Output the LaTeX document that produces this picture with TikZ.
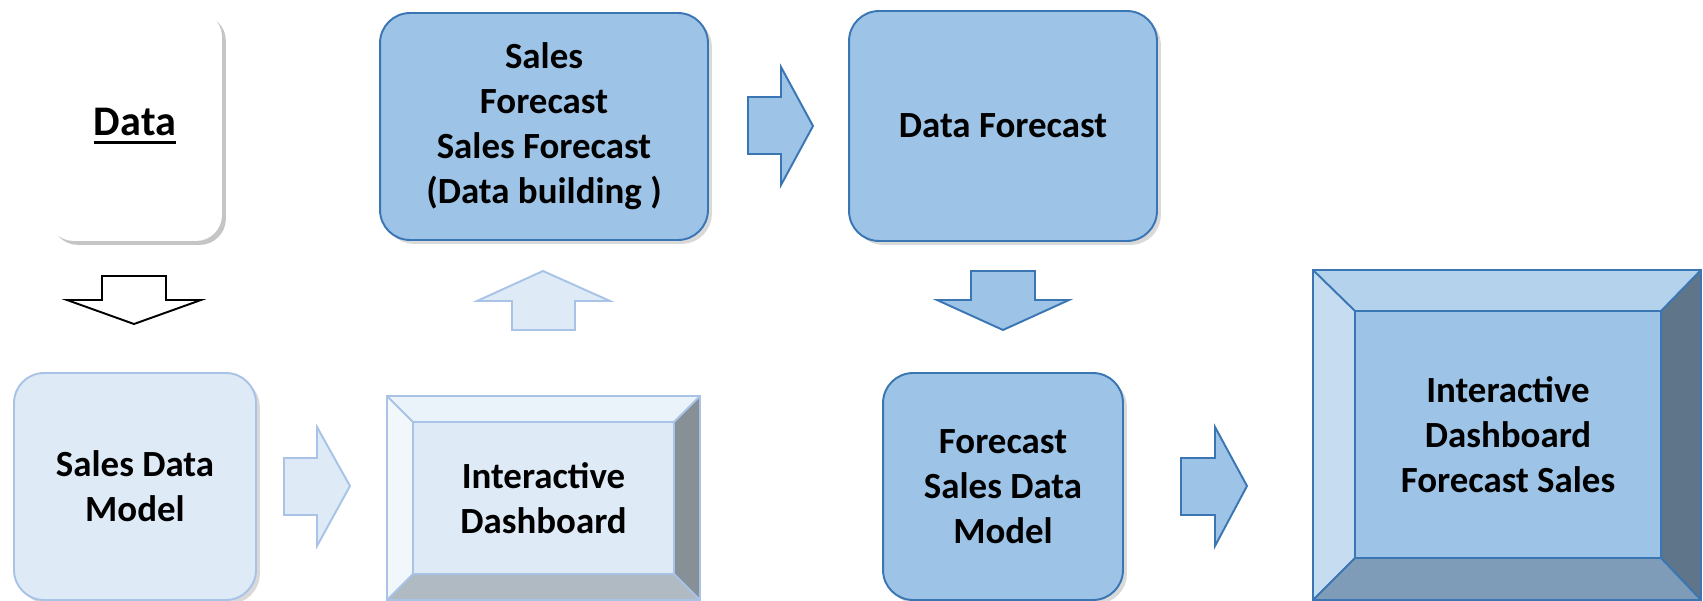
\documentclass[tikz,border=0pt]{standalone}
\usepackage{fontspec}
\setmainfont{Carlito}
\usetikzlibrary{shadows}
\definecolor{fcblue}{HTML}{9DC3E6}
\definecolor{fcline}{HTML}{3A76B3}
\definecolor{paleblue}{HTML}{DEEBF7}
\definecolor{paleline}{HTML}{A8C3E6}
\newcommand{\ulbold}[1]{\leavevmode\setbox0\hbox{#1}\rlap{\rule[-4.6pt]{\wd0}{1.3pt}}\box0}

\begin{document}
\begin{tikzpicture}[x=0.02cm, y=-0.02cm,
  box/.style={rounded corners=0.6cm, align=center, inner sep=0pt,
    font=\bfseries\fontsize{21}{25.6}\selectfont,
    drop shadow={shadow xshift=2.2pt, shadow yshift=-2.2pt, opacity=0.3}},
  bluebox/.style={box, fill=fcblue, draw=fcline, line width=1.1pt},
  palebox/.style={box, fill=paleblue, draw=paleline, line width=1.1pt},
  facetext/.style={align=center, font=\bfseries\fontsize{21}{25.6}\selectfont},
  bluearrow/.style={fill=fcblue, draw=fcline, line width=1.1pt, line join=miter},
  palearrow/.style={fill=paleblue, draw=paleline, line width=1.1pt, line join=miter},
  blackarrow/.style={fill=white, draw=black, line width=1.1pt, line join=miter}]
\useasboundingbox (0,0) rectangle (1703,601);

% top row
\node[box, fill=white, rounded corners=0.52cm, minimum width=3.48cm, minimum height=4.6cm,
  drop shadow={shadow xshift=2.2pt, shadow yshift=-2.2pt, opacity=0.22},
  font=\bfseries\fontsize{24}{28}\selectfont] (data) at (135,126) {\ulbold{Data}};
\node[bluebox, minimum width=6.56cm, minimum height=4.54cm] (salesfc) at (544,126.5)
  {Sales\\Forecast\\Sales Forecast\\(Data building )};
\node[bluebox, minimum width=6.16cm, minimum height=4.6cm] (datafc) at (1003,126) {Data Forecast};

% bottom row
\node[palebox, minimum width=4.84cm, minimum height=4.54cm] (sdm) at (135,486.5) {Sales Data\\Model};
\node[bluebox, minimum width=4.8cm, minimum height=4.54cm] (fsdm) at (1003,486.5)
  {Forecast\\Sales Data\\Model};

% small dashboard
\fill[paleblue] (387,396) rectangle (700,600);
\fill[color=paleblue!60!white] (387,396) -- (700,396) -- (674,422) -- (413,422) -- cycle;
\fill[color=paleblue!40!white] (387,396) -- (413,422) -- (413,574) -- (387,600) -- cycle;
\fill[color=black!39!paleblue] (700,396) -- (700,600) -- (674,574) -- (674,422) -- cycle;
\fill[color=black!21!paleblue] (387,600) -- (413,574) -- (674,574) -- (700,600) -- cycle;
\draw[paleline, line width=1.1pt] (387,396) rectangle (700,600) (413,422) rectangle (674,574)
  (387,396) -- (413,422) (700,396) -- (674,422) (700,600) -- (674,574) (387,600) -- (413,574);
\node[facetext] (dash) at (543.5,498) {Interactive\\Dashboard};

% big dashboard
\fill[fcblue] (1313,270) rectangle (1701,600);
\fill[color=fcblue!75!white] (1313,270) -- (1701,270) -- (1661,311) -- (1355,311) -- cycle;
\fill[color=fcblue!58!white] (1313,270) -- (1355,311) -- (1355,558) -- (1313,600) -- cycle;
\fill[color=black!40!fcblue] (1701,270) -- (1701,600) -- (1661,558) -- (1661,311) -- cycle;
\fill[color=black!20!fcblue] (1313,600) -- (1355,558) -- (1661,558) -- (1701,600) -- cycle;
\draw[fcline, line width=1.1pt] (1313,270) rectangle (1701,600) (1355,311) rectangle (1661,558)
  (1313,270) -- (1355,311) (1701,270) -- (1661,311) (1701,600) -- (1661,558) (1313,600) -- (1355,558);
\node[facetext] (fdash) at (1508,434.5) {Interactive\\Dashboard\\Forecast Sales};

% block arrows
\draw[blackarrow] (102,276) -- (166,276) -- (166,300) -- (201,300) -- (134,324) -- (67,300) -- (102,300) -- cycle;
\draw[palearrow] (512,330) -- (512,301) -- (477,301) -- (543,271) -- (610,301) -- (575,301) -- (575,330) -- cycle;
\draw[bluearrow] (748,97) -- (781,97) -- (781,67) -- (813,126) -- (781,185) -- (781,154) -- (748,154) -- cycle;
\draw[bluearrow] (971,271) -- (1035,271) -- (1035,300) -- (1069,300) -- (1003,330) -- (937,300) -- (971,300) -- cycle;
\draw[palearrow] (284,458) -- (317,458) -- (317,427) -- (350,486) -- (317,546) -- (317,515) -- (284,515) -- cycle;
\draw[bluearrow] (1181,458) -- (1215,458) -- (1215,427) -- (1247,486) -- (1215,546) -- (1215,515) -- (1181,515) -- cycle;
\end{tikzpicture}
\end{document}
